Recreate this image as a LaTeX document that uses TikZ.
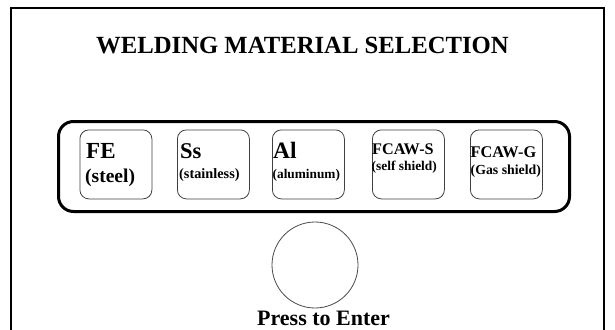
\documentclass[tikz,border=0pt]{standalone}
\usepackage{fontspec}
\setmainfont{Liberation Serif}
\newcommand{\fsz}[1]{\fontsize{#1}{#1}\selectfont\bfseries}
\begin{document}
\begin{tikzpicture}[x=1pt,y=-1pt,
  frame/.style={line width=2pt,draw=black},
  panel/.style={line width=3pt,draw=black,rounded corners=15pt},
  matbox/.style={draw=black!75,line width=0.8pt,rounded corners=9pt,
    minimum width=72pt,minimum height=69pt,inner sep=0pt,anchor=north west},
  lbl/.style={inner sep=0pt,anchor=base west,text=black},
  knob/.style={draw=black!70,line width=0.8pt,circle,minimum size=86pt,inner sep=0pt}]
\useasboundingbox (0,0) rectangle (615,329);
\fill[white] (0,0) rectangle (615,329);

% outer window frame, running off the bottom edge
\coordinate (fbl) at (11,335);
\coordinate (ftl) at (11,8);
\coordinate (ftr) at (604,8);
\coordinate (fbr) at (604,335);
\draw[frame] (fbl) -- (ftl) -- (ftr) -- (fbr);

% title
\node[inner sep=0pt,anchor=base] (title) at (302.5,54) {\fsz{24.7}WELDING MATERIAL SELECTION};

% selection panel
\node[panel,minimum width=511pt,minimum height=90pt,inner sep=0pt,anchor=north west] (panel) at (57,120) {};

% material buttons
\node[matbox] (fe)   at (79.5,129.5) {};
\node[matbox] (ss)   at (177,129.5) {};
\node[matbox] (al)   at (272,129.5) {};
\node[matbox] (fcs)  at (372,129.5) {};
\node[matbox] (fcg)  at (470,129.5) {};

\node[lbl] (feA)  at (86,158)    {\fsz{23}FE};
\node[lbl] (feB)  at (85,182)    {\fsz{19.5}(steel)};
\node[lbl] (ssA)  at (180,158)   {\fsz{22.5}Ss};
\node[lbl] (ssB)  at (179,178)   {\fsz{14.3}(stainless)};
\node[lbl] (alA)  at (273,158)   {\fsz{23.5}Al};
\node[lbl] (alB)  at (272.5,178) {\fsz{13.3}(aluminum)};
\node[lbl] (fcsA) at (372,154)   {\fsz{16.2}FCAW-S};
\node[lbl] (fcsB) at (371.5,170) {\fsz{13.4}(self shield)};
\node[lbl] (fcgA) at (470.5,157) {\fsz{16.3}FCAW-G};
\node[lbl] (fcgB) at (470.5,174) {\fsz{13.8}(Gas shield)};

% enter button
\node[knob] (enter) at (315,265) {};
\node[inner sep=0pt,anchor=base] (enterlbl) at (323.5,325) {\fsz{22}Press to Enter};
\end{tikzpicture}
\end{document}
